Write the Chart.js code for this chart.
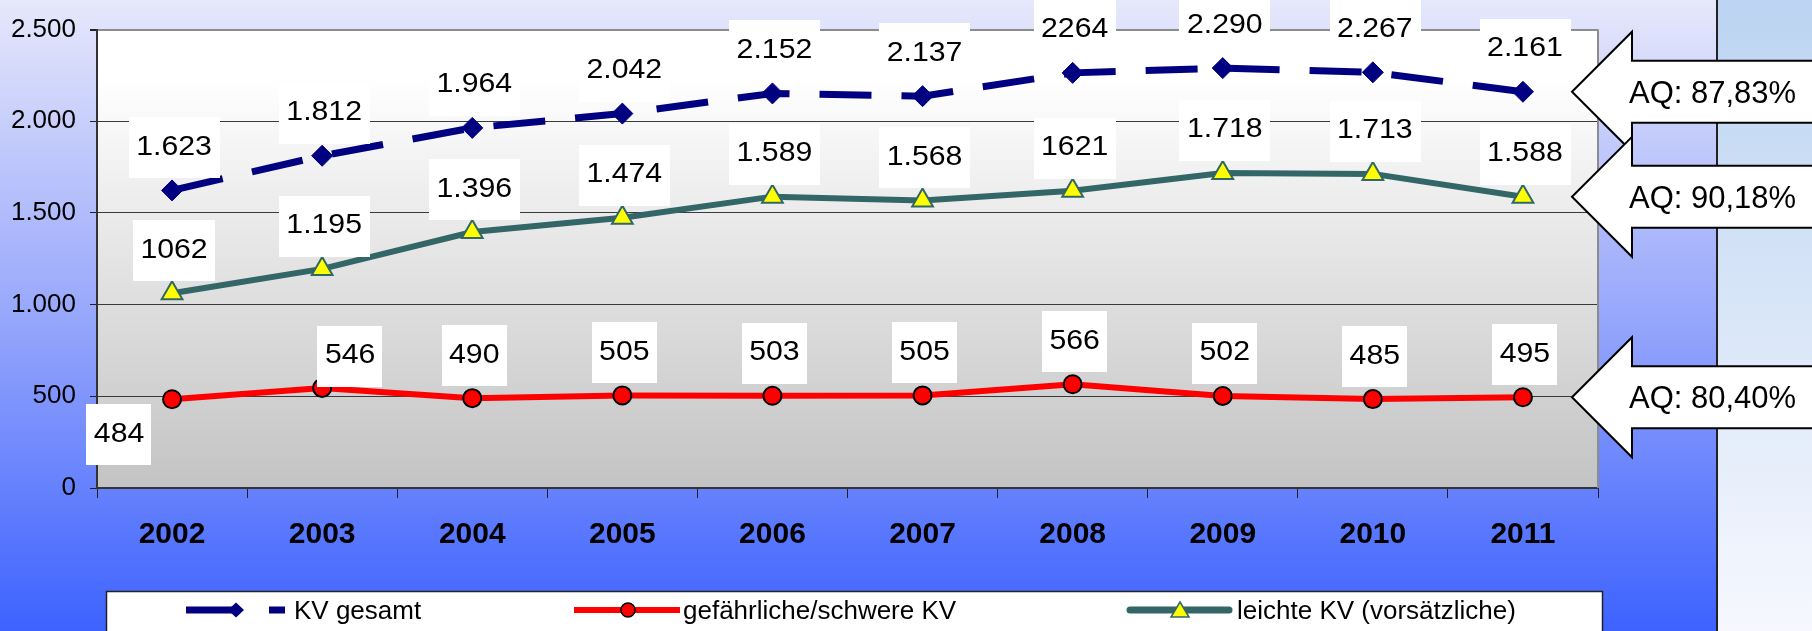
<!DOCTYPE html>
<html><head><meta charset="utf-8">
<script src="https://cdn.jsdelivr.net/npm/chart.js@4"></script>
<style>html,body{margin:0;padding:0;overflow:hidden;background:#fff}canvas{display:block}</style>
</head><body>
<canvas id="c" width="1812" height="631"></canvas>
<script>
// ---- data ----
const years = ['2002','2003','2004','2005','2006','2007','2008','2009','2010','2011'];
const kvGesamt = [1623,1812,1964,2042,2152,2137,2264,2290,2267,2161];
const kvSchwer = [484,546,490,505,503,505,566,502,485,495];
const kvLeicht = [1062,1195,1396,1474,1589,1568,1621,1718,1713,1588];
const labelsGesamt = ['1.623','1.812','1.964','2.042','2.152','2.137','2264','2.290','2.267','2.161'];
const labelsSchwer = ['484','546','490','505','503','505','566','502','485','495'];
const labelsLeicht = ['1062','1.195','1.396','1.474','1.589','1.568','1621','1.718','1.713','1.588'];
const yTickValues = [0,500,1000,1500,2000,2500];
const yTickLabels = ['0','500','1.000','1.500','2.000','2.500'];
const seriesNames = ['KV gesamt','gefährliche/schwere KV','leichte KV (vorsätzliche)'];
const quoteLabels = ['AQ: 87,83%','AQ: 80,40%','AQ: 90,18%'];

// ---- styles ----
const FONT = '"Liberation Sans", Arial, sans-serif';
const LABEL_SX = 1.08;
const labelOffsets = {1: {0: {dx: -53, dy: 66}, 1: {dx: 28, dy: -1}}};

const bgPlugin = {
  id: 'bg',
  beforeDraw(chart) {
    const {ctx, width, height, chartArea: a} = chart;
    ctx.save();
    let g = ctx.createLinearGradient(0, 0, 0, height);
    g.addColorStop(0, '#e6e8fb');
    g.addColorStop(0.5, '#97a7fb');
    g.addColorStop(1, '#3d62ff');
    ctx.fillStyle = g; ctx.fillRect(0, 0, width, height);
    g = ctx.createLinearGradient(0, 0, 0, height);
    g.addColorStop(0, '#bcd4f2');
    g.addColorStop(1, '#f6f8fe');
    ctx.fillStyle = g; ctx.fillRect(1717, 0, width - 1717, height);
    ctx.fillStyle = '#222'; ctx.fillRect(1716, 0, 2, height);
    g = ctx.createLinearGradient(0, a.top, 0, a.bottom);
    g.addColorStop(0, '#ffffff');
    g.addColorStop(0.1, '#ffffff');
    g.addColorStop(1, '#c3c3c3');
    ctx.fillStyle = g; ctx.fillRect(a.left, a.top, a.right - a.left, a.bottom - a.top);
    ctx.restore();
  },
  beforeDatasetsDraw(chart) {
    const {ctx, chartArea: a} = chart;
    ctx.save();
    ctx.strokeStyle = '#8c8c8c'; ctx.lineWidth = 2;
    ctx.beginPath(); ctx.moveTo(a.right, a.top); ctx.lineTo(a.right, a.bottom); ctx.stroke();
    ctx.restore();
  }
};

const labelPlugin = {
  id: 'vlabels',
  afterDatasetsDraw(chart) {
    const ctx = chart.ctx;
    chart.data.datasets.forEach((ds, di) => {
      const meta = chart.getDatasetMeta(di);
      meta.data.forEach((pt, i) => {
        const text = ds.valueLabels[i];
        ctx.save();
        ctx.font = '28px ' + FONT;
        const tw = ctx.measureText(text).width * LABEL_SX;
        const w = tw + 15, h = 61;
        let cx = pt.x + 2, bottom = pt.y - 12;
        const o = (labelOffsets[di] || {})[i];
        if (o) { cx = pt.x + o.dx; bottom = pt.y + o.dy; }
        const top = bottom - h;
        ctx.fillStyle = '#ffffff';
        ctx.fillRect(Math.round(cx - w / 2), Math.round(top), Math.round(w), h);
        ctx.fillStyle = '#000';
        ctx.textAlign = 'center'; ctx.textBaseline = 'alphabetic';
        ctx.translate(cx, top + 37.5); ctx.scale(LABEL_SX, 1);
        ctx.fillText(text, 0, 0);
        ctx.restore();
      });
    });
  }
};

const arrowPlugin = {
  id: 'arrows',
  afterDraw(chart) {
    const {ctx, chartArea: a, width} = chart;
    const items = chart.data.datasets.map((ds, di) => {
      const meta = chart.getDatasetMeta(di);
      const last = meta.data[meta.data.length - 1];
      return {y: last.y, text: quoteLabels[di]};
    }).sort((p, q) => p.y - q.y);
    items.forEach(it => {
      const tipX = a.right - 26, baseX = tipX + 60, y = it.y;
      ctx.save();
      ctx.beginPath();
      ctx.moveTo(tipX, y);
      ctx.lineTo(baseX, y - 60);
      ctx.lineTo(baseX, y - 31);
      ctx.lineTo(width + 5, y - 31);
      ctx.lineTo(width + 5, y + 31);
      ctx.lineTo(baseX, y + 31);
      ctx.lineTo(baseX, y + 60);
      ctx.closePath();
      ctx.fillStyle = '#fff'; ctx.fill();
      ctx.strokeStyle = '#000'; ctx.lineWidth = 2; ctx.lineJoin = 'miter'; ctx.stroke();
      ctx.fillStyle = '#000';
      ctx.font = '31px ' + FONT;
      ctx.textAlign = 'left'; ctx.textBaseline = 'alphabetic';
      ctx.fillText(it.text, baseX - 3, y + 11);
      ctx.restore();
    });
  }
};

const legendPlugin = {
  id: 'customLegend',
  afterDraw(chart) {
    const ctx = chart.ctx;
    const ds = chart.data.datasets;
    ctx.save();
    ctx.fillStyle = '#fff';
    ctx.fillRect(106, 591, 1496, 60);
    ctx.strokeStyle = '#222'; ctx.lineWidth = 1.5;
    ctx.strokeRect(106.5, 591.5, 1496, 60);
    const cy = 610;
    // item 1: dashed navy with diamond
    ctx.fillStyle = ds[0].borderColor;
    ctx.fillRect(186, cy - 3.5, 50, 7);
    ctx.beginPath();
    ctx.moveTo(236, cy - 7.5); ctx.lineTo(244, cy); ctx.lineTo(236, cy + 7.5); ctx.lineTo(228, cy); ctx.closePath(); ctx.fill();
    ctx.fillRect(269, cy - 3.5, 16, 7);
    // item 2: red with circle
    ctx.fillStyle = ds[1].borderColor;
    ctx.fillRect(574, cy - 3, 106, 6);
    ctx.beginPath(); ctx.arc(628, cy, 7, 0, Math.PI * 2);
    ctx.fill(); ctx.strokeStyle = '#000'; ctx.lineWidth = 1.5; ctx.stroke();
    // item 3: teal with triangle
    ctx.strokeStyle = ds[2].borderColor; ctx.lineWidth = 7; ctx.lineCap = 'round';
    ctx.beginPath(); ctx.moveTo(1130, cy); ctx.lineTo(1229, cy); ctx.stroke();
    ctx.beginPath(); ctx.moveTo(1180, cy - 8); ctx.lineTo(1189, cy + 7); ctx.lineTo(1171, cy + 7); ctx.closePath();
    ctx.fillStyle = '#ffff00'; ctx.fill(); ctx.lineWidth = 1.5; ctx.lineCap = 'butt'; ctx.stroke();
    // texts
    ctx.fillStyle = '#000'; ctx.font = '26px ' + FONT; ctx.textAlign = 'left'; ctx.textBaseline = 'alphabetic';
    ctx.fillText(seriesNames[0], 294, 619);
    ctx.fillText(seriesNames[1], 683, 619);
    ctx.fillText(seriesNames[2], 1237, 619);
    ctx.restore();
  }
};

new Chart(document.getElementById('c'), {
  type: 'line',
  data: {
    labels: years,
    datasets: [
      {label: seriesNames[0], data: kvGesamt, valueLabels: labelsGesamt,
       borderColor: '#000080', backgroundColor: '#000080', borderWidth: 7, borderDash: [52, 30],
       pointStyle: 'rectRot', pointRadius: 10.5, pointBackgroundColor: '#000080', pointBorderColor: '#000080', pointBorderWidth: 1},
      {label: seriesNames[1], data: kvSchwer, valueLabels: labelsSchwer,
       borderColor: '#ff0000', backgroundColor: '#ff0000', borderWidth: 6,
       pointStyle: 'circle', pointRadius: 9, pointBackgroundColor: '#ff0000', pointBorderColor: '#000', pointBorderWidth: 2},
      {label: seriesNames[2], data: kvLeicht, valueLabels: labelsLeicht,
       borderColor: '#336666', backgroundColor: '#336666', borderWidth: 6,
       pointStyle: 'triangle', pointRadius: 12, pointBackgroundColor: '#ffff00', pointBorderColor: '#336666', pointBorderWidth: 2}
    ]
  },
  options: {
    responsive: false, animation: false, devicePixelRatio: 1,
    elements: {line: {tension: 0}},
    layout: {padding: {left: 0, right: 214, top: 24, bottom: 83}},
    plugins: {legend: {display: false}, tooltip: {enabled: false}},
    scales: {
      x: {
        offset: true,
        grid: {offset: true, drawOnChartArea: false, drawTicks: true, tickLength: 10, tickColor: '#222', color: '#222'},
        border: {color: '#333', width: 2},
        ticks: {font: {family: FONT, size: 30, weight: 'bold'}, color: '#000', padding: 19, maxRotation: 0, autoSkip: false},
        afterFit: s => { s.height = 60; }
      },
      y: {
        min: 0, max: 2500,
        afterBuildTicks: s => { s.ticks = yTickValues.map(v => ({value: v})); },
        ticks: {callback: v => yTickLabels[yTickValues.indexOf(v)], font: {family: FONT, size: 26}, color: '#000', padding: 14},
        grid: {
          color: c => (c.tick && c.tick.value === 2500) ? '#8c8c8c' : '#3a3a3a',
          lineWidth: c => (c.tick && c.tick.value === 2500) ? 2 : 1,
          tickLength: 7, tickColor: '#222'
        },
        border: {color: '#333', width: 2},
        afterFit: s => { s.width = 97; }
      }
    }
  },
  plugins: [bgPlugin, labelPlugin, arrowPlugin, legendPlugin]
});
</script>
</body></html>
